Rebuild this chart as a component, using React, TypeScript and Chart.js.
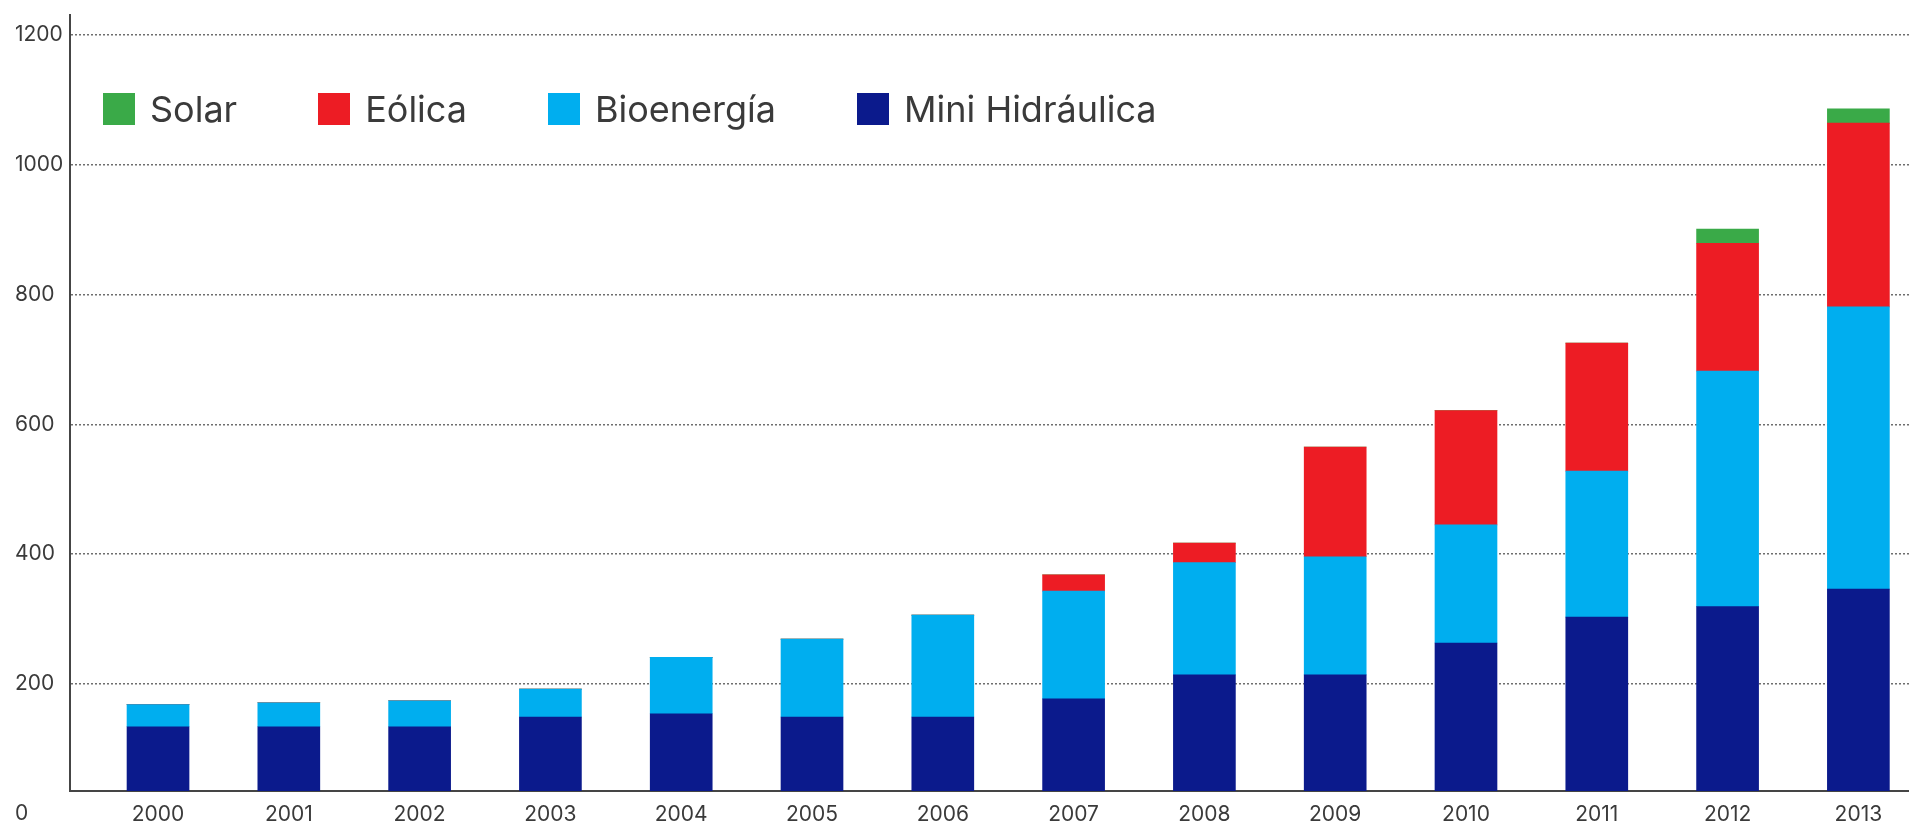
import { useEffect, useRef } from 'react';
import { Chart, registerables } from 'chart.js';

Chart.register(...registerables);

const years = [2000, 2001, 2002, 2003, 2004, 2005, 2006, 2007, 2008, 2009, 2010, 2011, 2012, 2013];
const miniHidraulica = [134, 134, 134, 149, 154, 149, 149, 177, 214, 214, 263, 303, 319, 346];
const bioenergia = [34, 37, 40, 43, 87, 120, 157, 166, 173, 182, 182, 225, 363, 435];
const eolica = [0, 0, 0, 0, 0, 0, 0, 25, 30, 169, 176, 197, 197, 283];
const solar = [0, 0, 0, 0, 0, 0, 0, 0, 0, 0, 0, 0, 22, 22];
const yTickValues = [0, 200, 400, 600, 800, 1000, 1200];

const seriesNames = ['Mini Hidráulica', 'Bioenergía', 'Eólica', 'Solar'];
const seriesColors = ['#0b1a8c', '#00aeef', '#ed1c24', '#3aaa48'];
const seriesValues = [miniHidraulica, bioenergia, eolica, solar];

const FONT = 'Inter, "Noto Sans", sans-serif';
const TEXT = '#3a3a3a';

export default function App() {
  const canvasRef = useRef<HTMLCanvasElement | null>(null);

  useEffect(() => {
    if (!canvasRef.current) return;
    const chart = new Chart(canvasRef.current, {
      type: 'bar',
      data: {
        labels: years,
        datasets: seriesNames.map((name, i) => ({
          label: name,
          data: seriesValues[i],
          backgroundColor: seriesColors[i],
          borderWidth: 0,
          barThickness: 62,
        })),
      },
      options: {
        responsive: false,
        animation: false,
        layout: { padding: { left: 15, top: 15, right: 0, bottom: 0 } },
        plugins: {
          legend: { display: false },
          tooltip: { enabled: false },
        },
        scales: {
          x: {
            type: 'linear',
            stacked: true,
            offset: false,
            min: 1999.327,
            max: 2013.387,
            afterBuildTicks: (axis: any) => {
              axis.ticks = years.map((v) => ({ value: v }));
            },
            afterFit: (axis: any) => {
              axis.height = 34;
            },
            grid: { display: false, drawTicks: false },
            border: { display: true, color: '#454545', width: 2 },
            ticks: {
              autoSkip: false,
              maxRotation: 0,
              padding: 11,
              color: TEXT,
              font: { family: FONT, size: 21 },
              callback: (v: any) => String(v),
            },
          },
          y: {
            stacked: true,
            min: 35,
            max: 1230.7,
            afterBuildTicks: (axis: any) => {
              axis.ticks = yTickValues.map((v) => ({ value: v }));
            },
            afterFit: (axis: any) => {
              axis.width = 55;
            },
            grid: {
              drawTicks: false,
              color: (ctx: any) => (ctx.tick && ctx.tick.value === 0 ? 'rgba(0,0,0,0)' : '#6e6e6e'),
              lineWidth: 1.5,
            },
            border: { display: true, color: '#454545', width: 2, dash: [2, 2] },
            ticks: {
              autoSkip: false,
              padding: 0,
              crossAlign: 'far',
              color: TEXT,
              font: { family: FONT, size: 21 },
              callback: (v: any) => String(v),
            },
          },
        },
      },
    } as any);
    return () => chart.destroy();
  }, []);

  const legendOrder = [3, 2, 1, 0];

  return (
    <div style={{ position: 'absolute', left: 0, top: 0, width: 1909, height: 825, background: '#fff' }}>
      <canvas ref={canvasRef} width={1909} height={825} style={{ display: 'block' }} />
      <div
        style={{
          position: 'absolute',
          left: 103,
          top: 93,
          display: 'flex',
          alignItems: 'center',
          fontFamily: FONT,
          fontSize: 36,
          color: TEXT,
          whiteSpace: 'nowrap',
        }}
      >
        {legendOrder.map((i, k) => (
          <div
            key={seriesNames[i]}
            style={{ display: 'flex', alignItems: 'center', marginRight: k < legendOrder.length - 1 ? 81 : 0 }}
          >
            <span style={{ display: 'inline-block', width: 32, height: 32, background: seriesColors[i], marginRight: 15 }} />
            <span style={{ lineHeight: '32px' }}>{seriesNames[i]}</span>
          </div>
        ))}
      </div>
    </div>
  );
}
